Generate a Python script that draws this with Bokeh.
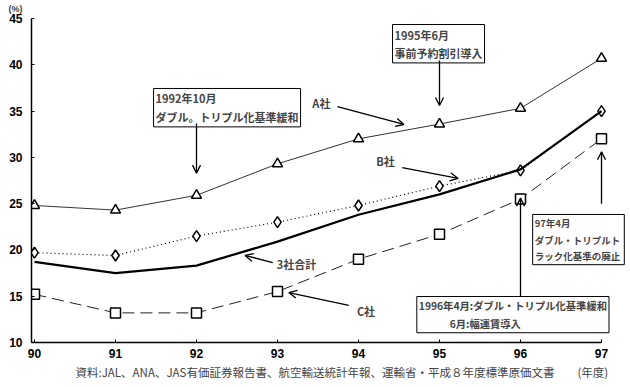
from bokeh.plotting import figure
from bokeh.models import Range1d, FixedTicker, Label, Arrow, OpenHead, Title
from bokeh.embed import file_html
from bokeh.resources import INLINE

years = [90, 91, 92, 93, 94, 95, 96, 97]
year_labels = ["90", "91", "92", "93", "94", "95", "96", "97"]
a_share = [24.8, 24.3, 25.9, 29.3, 32.0, 33.6, 35.3, 40.7]
b_share = [19.7, 19.4, 21.5, 23.0, 24.8, 26.9, 28.6, 35.0]
total_share = [18.7, 17.5, 18.3, 20.9, 23.8, 26.0, 28.7, 35.0]
c_share = [15.2, 13.2, 13.2, 15.5, 19.0, 21.7, 25.5, 32.0]
y_ticks = [10, 15, 20, 25, 30, 35, 40, 45]

JP = "Noto Sans CJK JP"
NUM = "Liberation Sans"

p = figure(width=630, height=387, output_backend="svg", toolbar_location=None,
           x_range=Range1d(89.963, 97.358), y_range=Range1d(10, 45),
           min_border_left=31, min_border_right=0, min_border_top=18, min_border_bottom=45)
p.outline_line_color = None
p.xgrid.visible = False
p.ygrid.visible = False

for ax in (p.xaxis[0], p.yaxis[0]):
    ax.axis_line_color = "black"
    ax.axis_line_width = 1.5
    ax.major_tick_in = 3
    ax.major_tick_out = 0
    ax.minor_tick_line_color = None
    ax.major_label_text_font = NUM
    ax.major_label_text_font_style = "bold"
    ax.major_label_text_font_size = "12px"
    ax.major_label_text_color = "black"
p.xaxis.ticker = FixedTicker(ticks=years)
p.xaxis.major_label_overrides = {y: l for y, l in zip(years, year_labels)}
p.xaxis.major_label_standoff = 6
p.xaxis.bounds = (89.963, 97.0)
p.yaxis.ticker = FixedTicker(ticks=y_ticks)
p.yaxis.major_label_standoff = 9

# series
p.line(years, a_share, line_color="#333333", line_width=1)
p.scatter(years, a_share, marker="triangle", size=10, fill_color="white",
          line_color="black", line_width=1.5)
p.line(years, b_share, line_color="black", line_width=1.2, line_dash="1 3")
p.scatter(years, b_share, marker="diamond", size=11, fill_color="white",
          line_color="black", line_width=1.5)
p.line(years, total_share, line_color="black", line_width=2.2)
p.line(years, c_share, line_color="#222222", line_width=1, line_dash="12 6")
p.scatter(years, c_share, marker="square", size=10, fill_color="white",
          line_color="black", line_width=1.5)


def box(x, y, text, size="11px"):
    p.add_layout(Label(x=x, y=y, text=text, text_font=JP, text_font_style="bold",
                       text_font_size=size, text_align="left", text_baseline="top",
                       text_line_height=1.15,
                       border_line_color="black", border_line_width=1,
                       background_fill_color="white", padding=2))


def tag(x, y, text):
    p.add_layout(Label(x=x, y=y, text=text, text_font=JP, text_font_style="bold",
                       text_font_size="11px", text_align="left", text_baseline="middle"))


def arrow(x0, y0, x1, y1):
    p.add_layout(Arrow(x_start=x0, y_start=y0, x_end=x1, y_end=y1, line_width=1.3,
                       end=OpenHead(size=8, line_width=1.3)))


box(91.47, 37.44, "1992年10月\nダブル。トリプル化基準緩和")
arrow(92.0, 33.66, 92.0, 28.3)
box(94.42, 44.35, "1995年6月\n事前予約割引導入")
arrow(95.0, 40.46, 95.0, 35.6)
tag(93.43, 35.82, "A社")
arrow(93.74, 35.49, 94.56, 33.55)
tag(94.22, 29.66, "B社")
arrow(94.54, 28.9, 95.23, 27.72)
tag(92.99, 18.53, "3社合計")
arrow(92.94, 18.64, 92.6, 19.4)
tag(93.98, 13.35, "C社")
arrow(93.88, 14.0, 93.14, 15.4)
box(96.15, 23.83, "97年4月\n ダブル・トリプルト\nラック化基準の廃止", size="9.5px")
arrow(97.0, 25.0, 97.0, 30.6)
box(94.72, 14.97, "1996年4月:ダブル・トリプル化基準緩和\n　　　6月:幅運賃導入", size="10.3px")
arrow(96.0, 14.97, 96.0, 25.6)

p.add_layout(Title(text="(%)", text_font=NUM, text_font_style="bold", text_font_size="9px",
                   align="left", vertical_align="top", offset=-23, standoff=6), "above")
p.add_layout(Title(text="資料:JAL、ANA、JAS有価証券報告書、航空輸送統計年報、運輸省・平成８年度標準原価文書　　(年度)",
                   text_font=JP, text_font_style="normal", text_font_size="11.5px",
                   align="left", offset=44, standoff=2), "below")

open("out.html", "w").write(file_html(p, INLINE))
